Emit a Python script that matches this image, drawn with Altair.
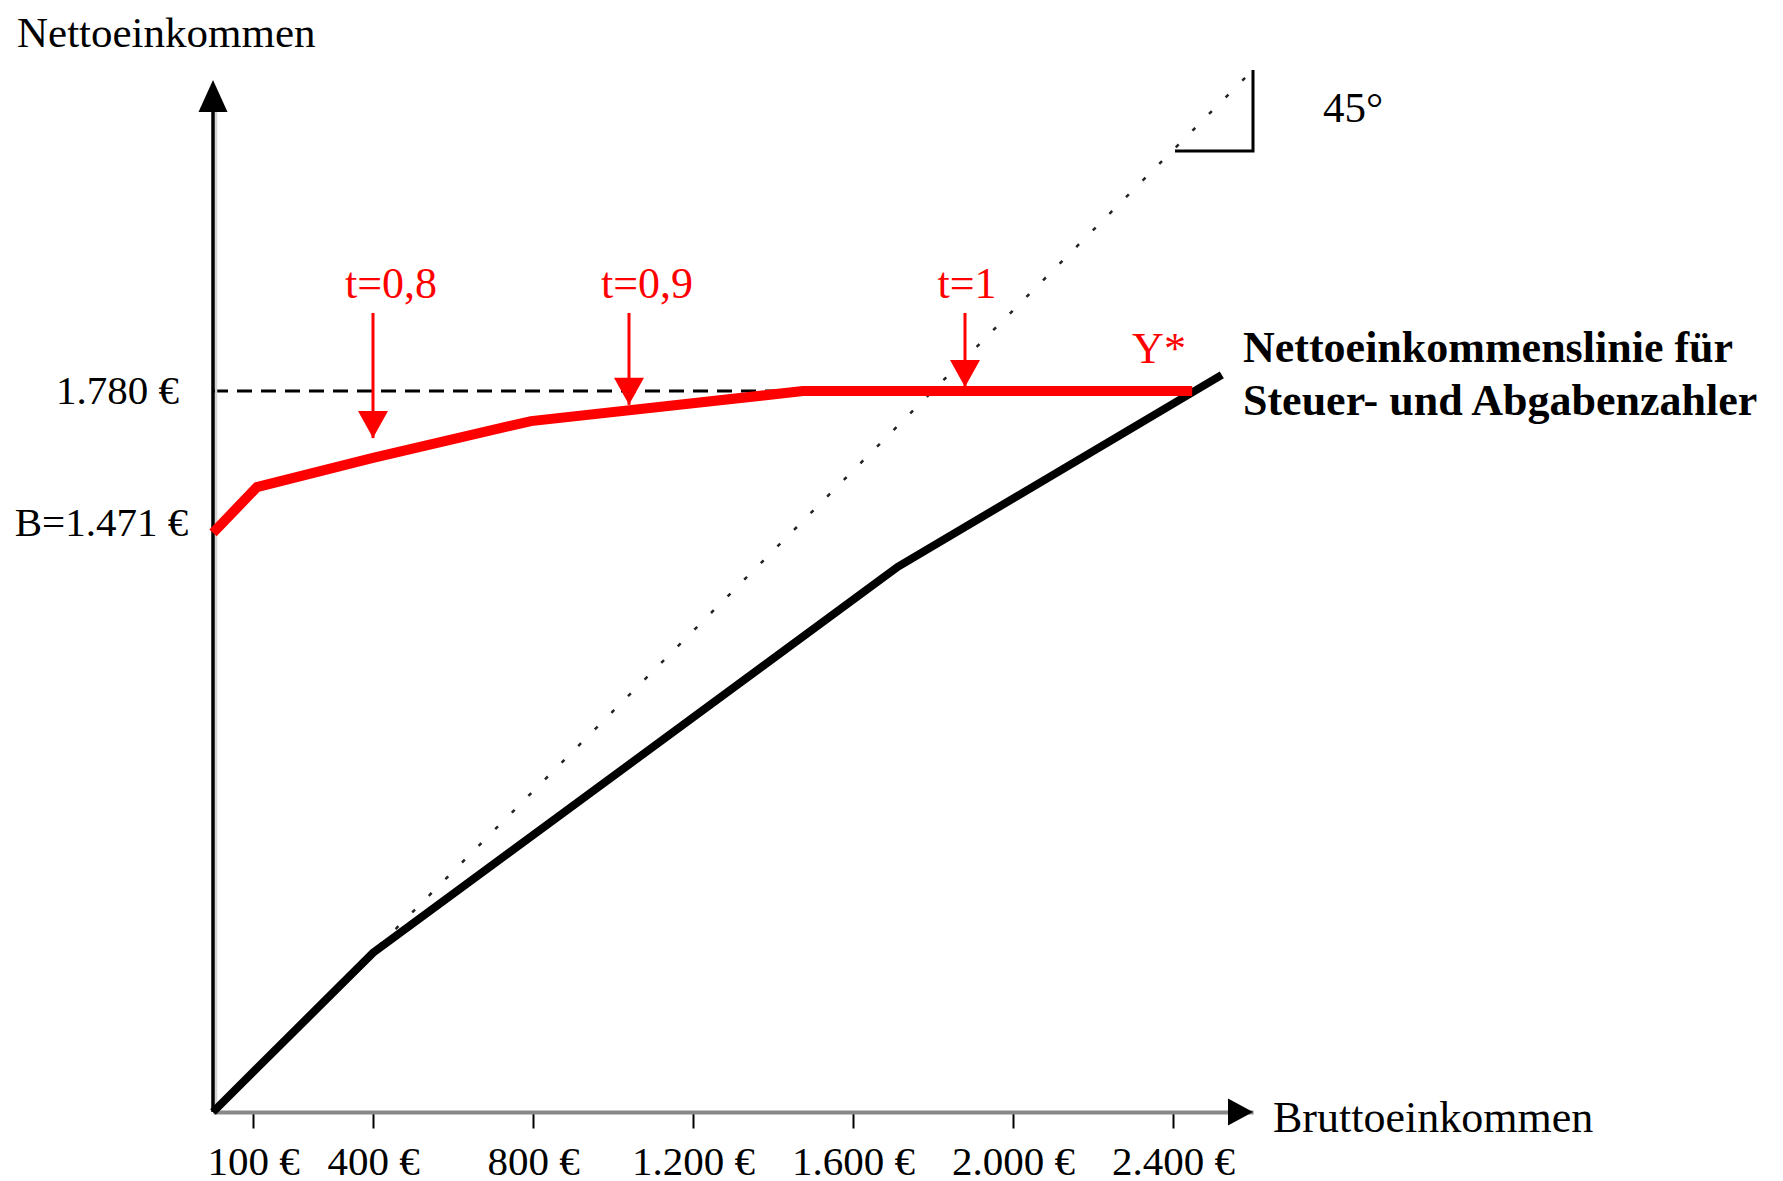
import altair as alt
import pandas as pd

# ---------------- data ----------------
x_ticks = [100, 400, 800, 1200, 1600, 2000, 2400]

red_x = [0, 110, 400, 795, 1475, 2448]
red_y = [1430, 1543, 1615, 1706, 1780, 1780]

black_x = [0, 400, 1712, 2522]
black_y = [0, 393, 1346, 1820]

diag_x = [0, 2600]
diag_y = [0, 2573]

tri_x = [2405, 2600, 2600]
tri_y = [2373, 2373, 2573]

level_y = 1780
level_x_end = 1480

arrow_x = [400, 1040, 1880]
arrow_top = [1973, 1973, 1973]
arrow_tip = [1664, 1746, 1790]
t_labels = ["t=0,8", "t=0,9", "t=1"]
t_label_x = [445, 1085, 1885]
t_label_y = [2010, 2010, 2010]

yaxis_top = 2548
xaxis_end = 2600

# ---------------- helpers ----------------
xs = alt.Scale(domain=[0, 2600], nice=False, zero=False)
ys = alt.Scale(domain=[0, 2600], nice=False, zero=False)
x_axis = alt.Axis(
    values=x_ticks, title=None, grid=False,
    domainColor="#888888", domainWidth=4, domainCap="butt",
    tickColor="black", tickWidth=2, tickSize=16,
    labelFont="Liberation Serif", labelFontSize=41, labelColor="black",
    labelPadding=14, labelOverlap=False, labelFlush=False,
    labelExpr="replace(format(datum.value, ','), ',', '.') + ' €'",
)


def X(f):
    return alt.X(f, type="quantitative", scale=xs, axis=x_axis)


def Y(f):
    return alt.Y(f, type="quantitative", scale=ys, axis=None)


def line_df(xv, yv):
    return pd.DataFrame({"x": xv, "y": yv, "i": list(range(len(xv)))})


# ---------------- layers ----------------
diag = alt.Chart(line_df(diag_x, diag_y)).mark_line(
    color="#222222", strokeWidth=2.5, strokeDash=[4, 19.5]
).encode(x=X("x"), y=Y("y"), order=alt.Order("i:Q"))

tri = alt.Chart(line_df(tri_x, tri_y)).mark_line(
    color="black", strokeWidth=3, strokeJoin="miter"
).encode(x=X("x"), y=Y("y"), order=alt.Order("i:Q"))

level = alt.Chart(pd.DataFrame({"x": [0], "x2": [level_x_end], "y": [level_y]})).mark_rule(
    color="black", strokeWidth=3, strokeDash=[15, 9]
).encode(x=X("x"), x2="x2", y=Y("y"))

yaxis_df = pd.DataFrame({"x": [0], "y": [0], "y2": [yaxis_top - 60]})
yaxis_shadow = alt.Chart(yaxis_df).mark_rule(
    color="#d4d4d4", strokeWidth=2.5, xOffset=3
).encode(x=X("x"), y=Y("y"), y2="y2")
yaxis = alt.Chart(yaxis_df).mark_rule(color="black", strokeWidth=3.5).encode(
    x=X("x"), y=Y("y"), y2="y2"
)

black_line = alt.Chart(line_df(black_x, black_y)).mark_line(
    color="black", strokeWidth=8
).encode(x=X("x"), y=Y("y"), order=alt.Order("i:Q"))

red_line = alt.Chart(line_df(red_x, red_y)).mark_line(
    color="#ff0000", strokeWidth=10
).encode(x=X("x"), y=Y("y"), order=alt.Order("i:Q"))

arr_df = pd.DataFrame({"x": arrow_x, "top": arrow_top, "tip": arrow_tip})
shafts = alt.Chart(arr_df).mark_rule(color="#ff0000", strokeWidth=3).encode(
    x=X("x"), y=Y("top"), y2="tip"
)
heads = alt.Chart(arr_df).mark_point(
    shape="M0,0 L-1,-1.8 L1,-1.8 Z", filled=True, size=900,
    color="#ff0000", opacity=1, strokeWidth=0
).encode(x=X("x"), y=Y("tip"))

xarrow = alt.Chart(pd.DataFrame({"x": [xaxis_end], "y": [0]})).mark_point(
    shape="M0,0 L-1.85,-1 L-1.85,1 Z", filled=True, size=729,
    color="black", opacity=1, strokeWidth=0
).encode(x=X("x"), y=Y("y"))

yarrow = alt.Chart(pd.DataFrame({"x": [0], "y": [yaxis_top]})).mark_point(
    shape="M0,0 L-1,2.2 L1,2.2 Z", filled=True, size=841,
    color="black", opacity=1, strokeWidth=0
).encode(x=X("x"), y=Y("y"))

# texts
top_title = alt.Chart(pd.DataFrame({"x": [-490], "y": [2630], "t": ["Nettoeinkommen"]})).mark_text(
    font="Liberation Serif", fontSize=43, align="left", baseline="alphabetic", color="black"
).encode(x=X("x"), y=Y("y"), text="t:N")

left_texts = pd.DataFrame({
    "x": [2650],
    "y": [-49],
    "t": ["Bruttoeinkommen"],
})
t_left = alt.Chart(left_texts).mark_text(
    font="Liberation Serif", fontSize=44, align="left", baseline="alphabetic", color="black"
).encode(x=X("x"), y=Y("y"), text="t:N")

right_texts = pd.DataFrame({
    "x": [-85, -62],
    "y": [1748, 1422],
    "t": ["1.780 €", "B=1.471 €"],
})
t_right = alt.Chart(right_texts).mark_text(
    font="Liberation Serif", fontSize=41, align="right", baseline="alphabetic", color="black"
).encode(x=X("x"), y=Y("y"), text="t:N")

deg = alt.Chart(pd.DataFrame({"x": [2850], "y": [2444], "t": ["45°"]})).mark_text(
    font="Liberation Serif", fontSize=43, align="center", baseline="alphabetic", color="black"
).encode(x=X("x"), y=Y("y"), text="t:N")

red_texts = pd.DataFrame({
    "x": t_label_x + [2365],
    "y": t_label_y + [1849],
    "t": t_labels + ["Y*"],
})
t_red = alt.Chart(red_texts).mark_text(
    font="Liberation Serif", fontSize=44, align="center", baseline="alphabetic", color="#ff0000"
).encode(x=X("x"), y=Y("y"), text="t:N")

bold_texts = pd.DataFrame({
    "x": [2575, 2575],
    "y": [1852, 1721],
    "t": ["Nettoeinkommenslinie für", "Steuer- und Abgabenzahler"],
})
t_bold = alt.Chart(bold_texts).mark_text(
    font="Liberation Serif", fontSize=44, fontWeight="bold", align="left",
    baseline="alphabetic", color="black"
).encode(x=X("x"), y=Y("y"), text="t:N")

chart = alt.layer(
    diag, tri, level, yaxis_shadow, yaxis, black_line, red_line,
    shafts, heads, xarrow, yarrow, top_title, t_left, t_right, deg, t_red, t_bold
).properties(
    width=1040, height=1053,
    autosize=alt.AutoSizeParams(type="none"),
    padding={"left": 205, "top": 51, "right": 522, "bottom": 72},
    background="white",
).configure_view(stroke=None)

chart.save("out.html", embed_options={"renderer": "svg", "actions": False})
